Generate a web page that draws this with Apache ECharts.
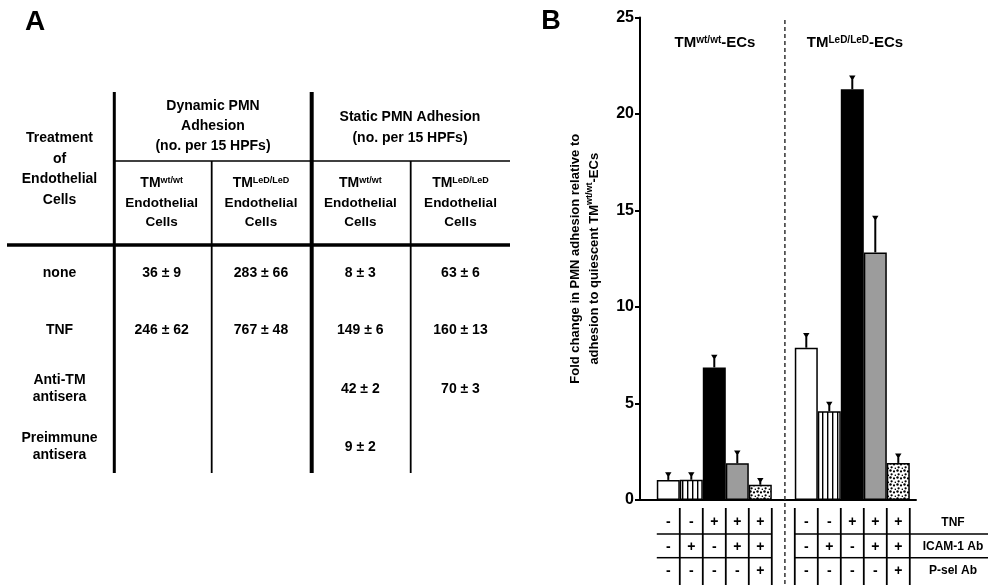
<!DOCTYPE html>
<html>
<head>
<meta charset="utf-8">
<script src="https://cdn.jsdelivr.net/npm/echarts@6/dist/echarts.min.js"></script>
<style>
html,body{margin:0;padding:0;background:#fff;}
#c{width:988px;height:585px;}
</style>
</head>
<body>
<div id="c"></div>
<script>
// ---------------- Panel A data (table) ----------------
const treatments = [['none'], ['TNF'], ['Anti-TM', 'antisera'], ['Preimmune', 'antisera']];
const dynWtMean  = [36, 246, null, null];
const dynWtSem   = [9, 62, null, null];
const dynLeDMean = [283, 767, null, null];
const dynLeDSem  = [66, 48, null, null];
const statWtMean = [8, 149, 42, 9];
const statWtSem  = [3, 6, 2, 2];
const statLeDMean = [63, 160, 70, null];
const statLeDSem  = [6, 13, 3, null];

// ---------------- Panel B data (bars) ----------------
const groupNames = ['wt/wt', 'LeD/LeD'];
const barMeans  = [1.04, 1.05, 6.87, 1.90, 0.79, null, 7.89, 4.60, 21.28, 12.83, 1.92];
const barErrors = [0.37, 0.36, 0.63, 0.64, 0.33, null, 0.74, 0.46, 0.69, 1.87, 0.46];
const barKinds  = ['open', 'striped', 'solid', 'gray', 'dotted', null, 'open', 'striped', 'solid', 'gray', 'dotted'];
const tnfRow  = ['-', '-', '+', '+', '+', null, '-', '-', '+', '+', '+'];
const icamRow = ['-', '+', '-', '+', '+', null, '-', '+', '-', '+', '+'];
const pselRow = ['-', '-', '-', '-', '+', null, '-', '-', '-', '-', '+'];
const conditionNames = ['TNF', 'ICAM-1 Ab', 'P-sel Ab'];
const yTicks = [0, 5, 10, 15, 20, 25];

// ---------------- layout / style ----------------
const FONT = '"Liberation Sans", Arial, Helvetica, sans-serif';
const SLOT0 = 1.23;            // x value of first bar slot centre
const DIVIDER_X = 6.3;         // x value of dashed divider
const ROW_OFF = [22.3, 46.7, 71];
const HLINE_OFF = [34, 57.7];
const pos = i => i + SLOT0;

function stripeCanvas() {
  const c = document.createElement('canvas');
  c.width = 5; c.height = 4;
  const g = c.getContext('2d');
  g.fillStyle = '#fff'; g.fillRect(0, 0, 5, 4);
  g.fillStyle = '#000'; g.fillRect(2, 0, 1.4, 4);
  return c;
}
function dotCanvas() {
  const c = document.createElement('canvas');
  c.width = 7; c.height = 7;
  const g = c.getContext('2d');
  g.fillStyle = '#fff'; g.fillRect(0, 0, 7, 7);
  g.fillStyle = '#000';
  [[1.5, 1.5, 1.2], [5.0, 2.4, 1.1], [2.6, 5.3, 1.15], [6.3, 6.2, 0.8]].forEach(d => {
    g.beginPath(); g.arc(d[0], d[1], d[2], 0, Math.PI * 2); g.fill();
  });
  return c;
}
const kindStyle = {
  open: { color: '#fff' },
  striped: { color: { image: stripeCanvas(), repeat: 'repeat' } },
  solid: { color: '#000' },
  gray: { color: '#9c9c9c' },
  dotted: { color: { image: dotCanvas(), repeat: 'repeat' } }
};

const barData = [], errData = [], tableData = [];
barMeans.forEach((m, i) => {
  if (m == null) return;
  barData.push({ value: [pos(i), m],
    itemStyle: Object.assign({ borderColor: '#000', borderWidth: 1.5 }, kindStyle[barKinds[i]]) });
  errData.push([pos(i), m, barErrors[i]]);
  tableData.push([pos(i), i]);
});

function txt(text, x, y, size, extra) {
  return {
    type: 'text',
    style: Object.assign({
      text: text, x: x, y: y, fill: '#000',
      fontSize: size, fontWeight: 'bold', fontFamily: FONT,
      textAlign: 'center', textVerticalAlign: 'middle'
    }, extra || {})
  };
}
function ln(x1, y1, x2, y2, w) {
  return { type: 'line', shape: { x1, y1, x2, y2 }, style: { stroke: '#000', lineWidth: w } };
}
const supRich = (size) => ({ s: { fontSize: size, fontWeight: 'bold', fontFamily: FONT, verticalAlign: 'top', lineHeight: size + 2 } });
const fmt = (m, s) => (m == null ? '' : m + ' \u00b1 ' + s);

// ---------------- static graphics (panel A table, labels) ----------------
const gA = [];
gA.push(txt('A', 35, 22, 28));
gA.push(txt('B', 551, 22, 27));
gA.push(ln(114.3, 92, 114.3, 473, 3));
gA.push(ln(311.7, 92, 311.7, 473, 4));
gA.push(ln(211.7, 161, 211.7, 473, 1.8));
gA.push(ln(410.7, 161, 410.7, 473, 1.8));
gA.push(ln(114, 161, 510, 161, 1.5));
gA.push(ln(7, 245, 510, 245, 3.5));
['Treatment', 'of', 'Endothelial', 'Cells'].forEach((t, k) => gA.push(txt(t, 59.5, 138 + k * 20.7, 14)));
['Dynamic PMN', 'Adhesion', '(no. per 15 HPFs)'].forEach((t, k) => gA.push(txt(t, 213, 106.5 + k * 20, 14)));
['Static PMN Adhesion', '(no. per 15 HPFs)'].forEach((t, k) => gA.push(txt(t, 410, 116.7 + k * 21, 14)));
const colX = [161.7, 261, 360.3, 460.5];
const colGeno = [groupNames[0], groupNames[1], groupNames[0], groupNames[1]];
colX.forEach((x, k) => {
  gA.push(txt('TM{s|' + colGeno[k] + '}', x, 183.3, 14, { rich: supRich(9) }));
  gA.push(txt('Endothelial', x, 203.3, 13.5));
  gA.push(txt('Cells', x, 222.7, 13.5));
});
const rowY = [273.3, 330, 389, 446.7];
treatments.forEach((lines, r) => {
  if (lines.length === 1) gA.push(txt(lines[0], 59.5, rowY[r], 14));
  else {
    gA.push(txt(lines[0], 59.5, rowY[r] - 9, 14));
    gA.push(txt(lines[1], 59.5, rowY[r] + 8.5, 14));
  }
  gA.push(txt(fmt(dynWtMean[r], dynWtSem[r]), colX[0], rowY[r], 14));
  gA.push(txt(fmt(dynLeDMean[r], dynLeDSem[r]), colX[1], rowY[r], 14));
  gA.push(txt(fmt(statWtMean[r], statWtSem[r]), colX[2], rowY[r], 14));
  gA.push(txt(fmt(statLeDMean[r], statLeDSem[r]), colX[3], rowY[r], 14));
});
gA.push(txt('TM{s|' + groupNames[0] + '}-ECs', 715, 43, 15, { rich: supRich(10) }));
gA.push(txt('TM{s|' + groupNames[1] + '}-ECs', 855, 43, 15, { rich: supRich(10) }));
conditionNames.forEach((t, r) => gA.push(txt(t, 953, 500 + ROW_OFF[r], 12)));

// ---------------- render functions ----------------
function renderErr(params, api) {
  const x = api.value(0), m = api.value(1), e = api.value(2);
  const p0 = api.coord([x, m]), p1 = api.coord([x, m + e]);
  return { type: 'group', children: [
    { type: 'line', shape: { x1: p0[0], y1: p0[1], x2: p1[0], y2: p1[1] }, style: { stroke: '#000', lineWidth: 2 } },
    { type: 'polygon', shape: { points: [[p1[0] - 3.2, p1[1] - 0.5], [p1[0] + 3.2, p1[1] - 0.5], [p1[0] + 1, p1[1] + 3], [p1[0] - 1, p1[1] + 3]] },
      style: { fill: '#000' } }
  ] };
}
function renderTable(params, api) {
  const i = api.value(1);
  const c = api.coord([api.value(0), 0]);
  const w = api.size([1, 0])[0];
  const x = c[0], y0 = c[1];
  const L = x - w / 2, R = x + w / 2;
  const H = api.getHeight();
  const children = [];
  [tnfRow, icamRow, pselRow].forEach((row, r) => {
    children.push({ type: 'text', style: { text: row[i], x: x, y: y0 + ROW_OFF[r], fill: '#000',
      fontSize: 14, fontWeight: 'bold', fontFamily: FONT, textAlign: 'center', textVerticalAlign: 'middle' } });
  });
  const rightEnd = (i === tnfRow.length - 1) ? api.getWidth() : R;
  HLINE_OFF.forEach(dy => children.push({ type: 'line', shape: { x1: L, y1: y0 + dy, x2: rightEnd, y2: y0 + dy }, style: { stroke: '#000', lineWidth: 1.5 } }));
  const vl = xx => ({ type: 'line', shape: { x1: xx, y1: y0 + 8, x2: xx, y2: H }, style: { stroke: '#000', lineWidth: 1.8 } });
  children.push(vl(R));
  if (i > 0 && tnfRow[i - 1] == null) children.push(vl(L));
  return { type: 'group', children };
}
function renderDivider(params, api) {
  const c = api.coord([api.value(0), 0]);
  return { type: 'line', shape: { x1: c[0], y1: 20, x2: c[0], y2: api.getHeight() },
    style: { stroke: '#333', lineWidth: 1.5, lineDash: [4, 3] } };
}

const chart = echarts.init(document.getElementById('c'));
chart.setOption({
  backgroundColor: '#fff',
  animation: false,
  graphic: { elements: gA },
  grid: { left: 640, right: 72, top: 17.5, bottom: 85, containLabel: false },
  xAxis: {
    type: 'value', min: 0, max: 12,
    axisLine: { show: true, lineStyle: { color: '#000', width: 2 } },
    axisTick: { show: false }, axisLabel: { show: false }, splitLine: { show: false }
  },
  yAxis: {
    type: 'value', min: yTicks[0], max: yTicks[yTicks.length - 1], interval: yTicks[1] - yTicks[0],
    axisLine: { show: true, lineStyle: { color: '#000', width: 2 } },
    axisTick: { show: true, length: 5, lineStyle: { color: '#000', width: 2 } },
    axisLabel: { color: '#000', fontSize: 16, fontWeight: 'bold', fontFamily: FONT, margin: 6 },
    splitLine: { show: false },
    name: 'Fold change in PMN adhesion relative to\nadhesion to quiescent TM{s|wt/wt}-ECs',
    nameLocation: 'middle', nameGap: 36,
    nameTextStyle: { color: '#000', fontSize: 13, fontWeight: 'bold', fontFamily: FONT, lineHeight: 19,
      rich: supRich(9) }
  },
  series: [
    { type: 'bar', data: barData, barWidth: 23, z: 2 },
    { type: 'custom', data: errData, renderItem: renderErr, z: 3, clip: false },
    { type: 'custom', data: tableData, renderItem: renderTable, z: 3, clip: false },
    { type: 'custom', data: [[DIVIDER_X]], renderItem: renderDivider, z: 1, clip: false }
  ]
});
</script>
</body>
</html>
